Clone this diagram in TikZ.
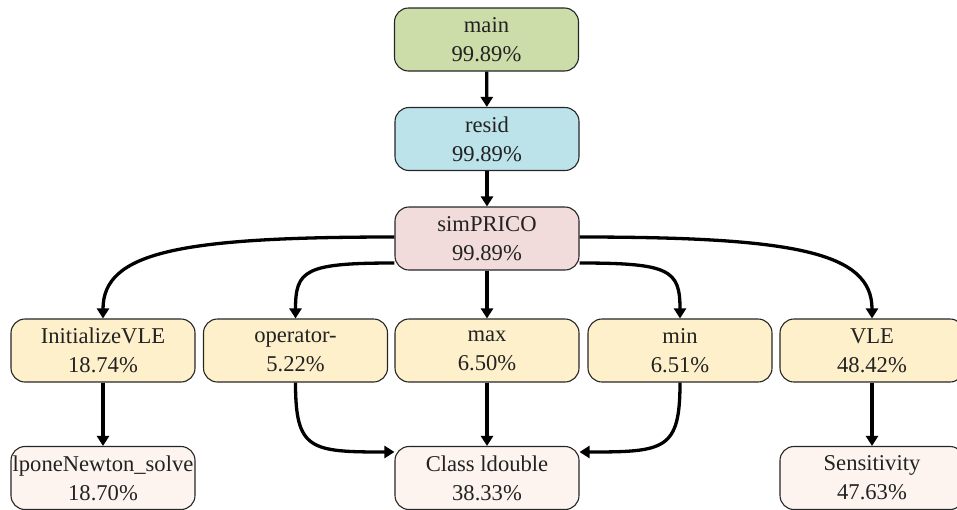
\documentclass[tikz,border=0pt]{standalone}
\usepackage{fontspec}
\setmainfont{Liberation Serif}
\usetikzlibrary{arrows.meta}
\definecolor{cmain}{HTML}{CCDDAA}
\definecolor{cresid}{HTML}{BCE2EA}
\definecolor{csim}{HTML}{F2DCDB}
\definecolor{cmid}{HTML}{FDF0CA}
\definecolor{clow}{HTML}{FDF4EF}
\definecolor{ctext}{HTML}{222222}
\tikzset{
  fbox/.style={draw=black!85, line width=1.1pt, rounded corners=14pt,
    minimum width=184pt, minimum height=63pt, inner sep=0pt, align=center,
    text=ctext, font=\fontsize{22.6pt}{29pt}\selectfont},
  conn/.style={line width=3.3pt, -{Triangle[length=10pt,width=12pt]}}
}
\begin{document}
\begin{tikzpicture}[x=1pt,y=-1pt]
\useasboundingbox (0,0) rectangle (957,509);
\node[fbox, fill=cmain] (main) at (486.5,39.5) {main\\99.89\%};
\node[fbox, fill=cresid] (resid) at (487,139) {resid\\99.89\%};
\node[fbox, fill=csim] (sim) at (487,238.5) {simPRICO\\99.89\%};
\node[fbox, fill=cmid] (init) at (103,350.5) {InitializeVLE\\18.74\%};
\node[fbox, fill=cmid] (oper) at (295.5,350.5) {operator-\\5.22\%};
\node[fbox, fill=cmid] (max) at (487,350.5) {max\\6.50\%};
\node[fbox, fill=cmid] (min) at (680,350.5) {min\\6.51\%};
\node[fbox, fill=cmid] (vle) at (872,350.5) {VLE\\48.42\%};
\node[fbox, fill=clow] (lpone) at (103,478) {lponeNewton\_solve\\18.70\%};
\node[fbox, fill=clow] (cls) at (487,478) {Class ldouble\\38.33\%};
\node[fbox, fill=clow] (sens) at (872,478) {Sensitivity\\47.63\%};

\draw[conn] (main) -- (resid);
\draw[conn] (resid) -- (sim);
\draw[conn] (sim) -- (max);
\draw[conn] (init) -- (lpone);
\draw[conn] (max) -- (cls);
\draw[conn] (vle) -- (sens);
\draw[conn] (sim.west |- 0,237) .. controls (180,237) and (103,252) .. (init.north);
\draw[conn] (sim.east |- 0,237) .. controls (794,237) and (872,252) .. (vle.north);
\draw[conn] ([yshift=-24.5pt]sim.west) .. controls (305,263) and (295.5,270) .. (oper.north);
\draw[conn] ([yshift=-24.5pt]sim.east) .. controls (670,263) and (680,270) .. (min.north);
\draw[conn] (oper.south) .. controls (295.5,450) and (310,452) .. (cls.west |- 0,452);
\draw[conn] (min.south) .. controls (680,450) and (665,452) .. (cls.east |- 0,452);
\end{tikzpicture}
\end{document}
